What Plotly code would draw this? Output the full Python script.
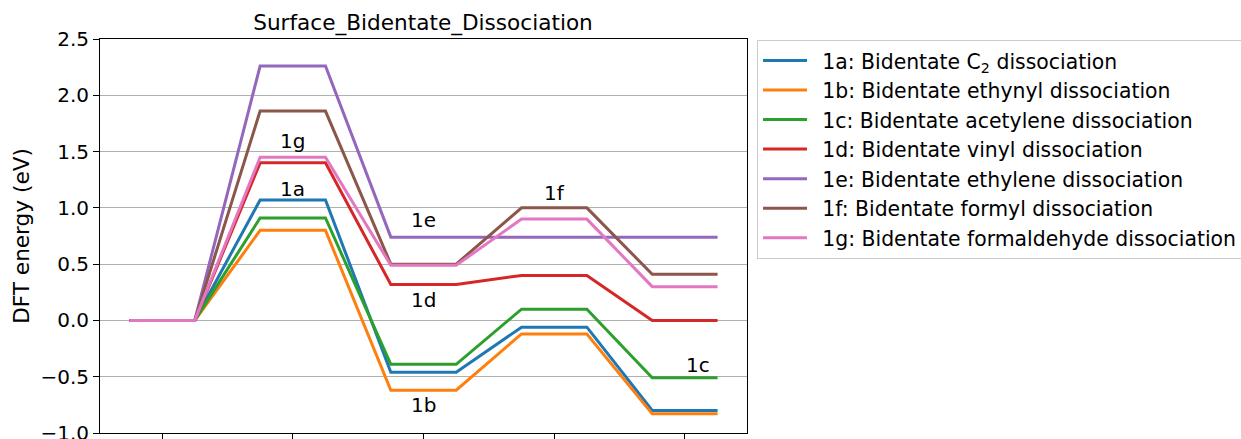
import plotly.graph_objects as go

# Reaction-coordinate states (each drawn as a short horizontal level)
states = [0, 1, 2, 3, 4]
half_width = 0.25

labels = [
    "1a: Bidentate C<sub>2</sub> dissociation",
    "1b: Bidentate ethynyl dissociation",
    "1c: Bidentate acetylene dissociation",
    "1d: Bidentate vinyl dissociation",
    "1e: Bidentate ethylene dissociation",
    "1f: Bidentate formyl dissociation",
    "1g: Bidentate formaldehyde dissociation",
]

# DFT energies (eV) at each state
e_1a = [0.0, 1.07, -0.46, -0.06, -0.80]
e_1b = [0.0, 0.80, -0.62, -0.12, -0.83]
e_1c = [0.0, 0.91, -0.39, 0.10, -0.51]
e_1d = [0.0, 1.40, 0.32, 0.40, 0.00]
e_1e = [0.0, 2.26, 0.74, 0.74, 0.74]
e_1f = [0.0, 1.86, 0.50, 1.00, 0.41]
e_1g = [0.0, 1.45, 0.49, 0.90, 0.30]
energies = [e_1a, e_1b, e_1c, e_1d, e_1e, e_1f, e_1g]

colors = ["#1f77b4", "#ff7f0e", "#2ca02c", "#d62728",
          "#9467bd", "#8c564b", "#e377c2"]

# Text tags placed next to selected pathways
tag_text = ["1g", "1a", "1e", "1d", "1b", "1f", "1c"]
tag_x = [1, 1, 2, 2, 2, 3, 4.1]
tag_y = [1.59, 1.17, 0.89, 0.18, -0.75, 1.13, -0.40]

FONT = "DejaVu Sans"
LEGEND_PAD = "\u2002"  # small gap between legend line sample and its text

fig = go.Figure()
for name, vals, col in zip(labels, energies, colors):
    xs, ys = [], []
    for s, v in zip(states, vals):
        xs += [s - half_width, s + half_width]
        ys += [v, v]
    fig.add_trace(go.Scatter(
        x=xs, y=ys, mode="lines", name=LEGEND_PAD + name,
        line=dict(color=col, width=3),
    ))

for t, x, y in zip(tag_text, tag_x, tag_y):
    fig.add_annotation(x=x, y=y, text=t, showarrow=False,
                       font=dict(family=FONT, size=20, color="black"))

fig.update_layout(
    width=1241, height=439,
    margin=dict(l=100, r=494, t=39, b=6, autoexpand=False),
    paper_bgcolor="white", plot_bgcolor="white",
    font=dict(family=FONT, size=20, color="black"),
    title=dict(text="Surface_Bidentate_Dissociation",
               x=423 / 1241, xanchor="center",
               y=1 - 22 / 439, yanchor="middle",
               font=dict(family=FONT, size=21.6, color="black")),
    showlegend=True,
    legend=dict(x=1.0155, xanchor="left", y=0.998, yanchor="top",
                bgcolor="white", bordercolor="#cccccc", borderwidth=1,
                font=dict(family=FONT, size=20.4, color="black"),
                itemwidth=44),
)

fig.update_xaxes(
    range=[-0.475, 4.475], tickvals=states, showticklabels=False,
    ticks="outside", ticklen=6, tickcolor="black", tickwidth=1,
    showgrid=False, zeroline=False, automargin=False,
    showline=True, linecolor="black", linewidth=1, mirror=True,
)
fig.update_yaxes(
    range=[-1.0, 2.5], dtick=0.5, tickformat=".1f",
    ticks="outside", ticklen=6, tickcolor="black", tickwidth=1,
    ticklabeloverflow="allow",
    showgrid=True, gridcolor="#b0b0b0", gridwidth=1, zeroline=False,
    automargin=False,
    showline=True, linecolor="black", linewidth=1, mirror=True,
    title=dict(text="DFT energy (eV)", standoff=4,
               font=dict(family=FONT, size=21.6, color="black")),
)

fig.write_html("out.html")
